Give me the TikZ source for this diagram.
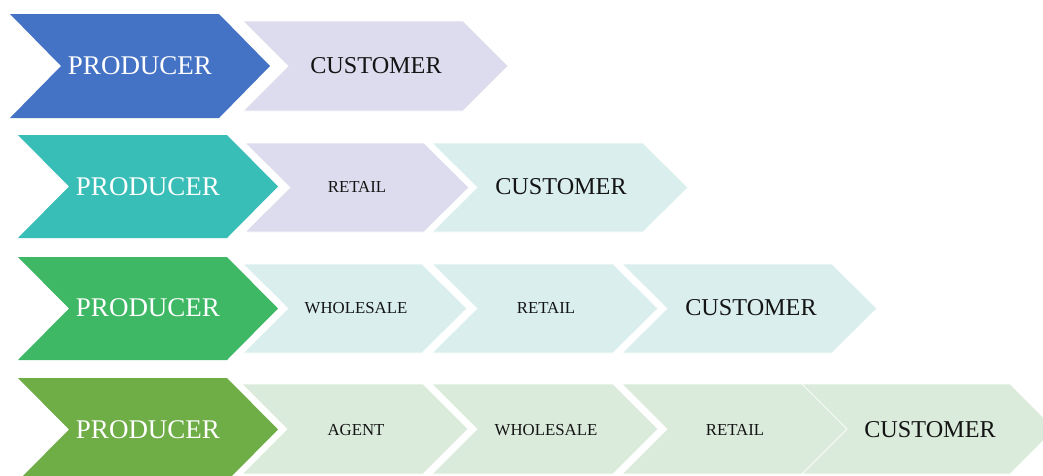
\documentclass[tikz,border=0pt]{standalone}
\usepackage{fontspec}
\setmainfont{Liberation Serif}
\definecolor{prodA}{HTML}{4472C4}
\definecolor{prodB}{HTML}{38BEB6}
\definecolor{prodC}{HTML}{3EB864}
\definecolor{prodD}{HTML}{6FAD47}
\definecolor{lav}{HTML}{DCDCEE}
\definecolor{lteal}{HTML}{DAEEEE}
\definecolor{lgreen}{HTML}{DAEBDB}
% #1 style, #2 x-left, #3 x-tip, #4 top, #5 bottom, #6 depth
\newcommand\chevshape[6]{%
  \path[#1] (#2,#4) -- ({#3-#6},#4) -- (#3,{(#4+#5)/2}) -- ({#3-#6},#5)
    -- (#2,#5) -- ({#2+#6},{(#4+#5)/2}) -- cycle;}
\tikzset{
  prodshape/.style={fill=#1},
  stageshape/.style={fill=#1, draw=white, line width=0.7pt},
  prodlabel/.style={text=white, font=\fontsize{27}{30}\selectfont, inner sep=0pt},
  custlabel/.style={text=black!92, font=\fontsize{24.2}{28}\selectfont, inner sep=0pt},
  midlabel/.style={text=black!92, font=\fontsize{16.8}{20}\selectfont, inner sep=0pt},
}
\begin{document}
\begin{tikzpicture}[x=1pt,y=-1pt]
\useasboundingbox (0,0) rectangle (1043,475);
\fill[white] (0,0) rectangle (1043,475);
% Row 1
\chevshape{prodshape=prodA}{10}{270}{14}{118}{51}
\chevshape{stageshape=lav}{243}{508}{21}{111}{45}
\node[prodlabel] (p1) at (140,66) {PRODUCER};
\node[custlabel] (c1) at (376,66) {CUSTOMER};
% Row 2
\chevshape{prodshape=prodB}{18}{278}{135}{238}{51}
\chevshape{stageshape=lav}{245}{469}{143}{232}{45}
\chevshape{stageshape=lteal}{432}{688}{143}{232}{45}
\node[prodlabel] (p2) at (148,187) {PRODUCER};
\node[midlabel] (r2) at (357,187) {RETAIL};
\node[custlabel] (c2) at (561,187) {CUSTOMER};
% Row 3
\chevshape{prodshape=prodC}{18}{278}{257}{360}{51}
\chevshape{stageshape=lteal}{243}{467}{264}{353}{45}
\chevshape{stageshape=lteal}{432}{658}{264}{353}{45}
\chevshape{stageshape=lteal}{622}{877}{264}{353}{45}
\node[prodlabel] (p3) at (148,308) {PRODUCER};
\node[midlabel] (w3) at (356,308) {WHOLESALE};
\node[midlabel] (r3) at (546,308) {RETAIL};
\node[custlabel] (c3) at (751,308) {CUSTOMER};
% Row 4
\chevshape{prodshape=prodD}{18}{278}{378}{481}{51}
\chevshape{stageshape=lgreen}{242}{468}{384}{474}{45}
\chevshape{stageshape=lgreen}{432}{658}{384}{474}{45}
\chevshape{stageshape=lgreen}{622}{847}{384}{474}{45}
\chevshape{stageshape=lgreen}{802}{1055}{384}{474}{45}
\node[prodlabel] (p4) at (148,430) {PRODUCER};
\node[midlabel] (a4) at (356,430) {AGENT};
\node[midlabel] (w4) at (546,430) {WHOLESALE};
\node[midlabel] (r4) at (735,430) {RETAIL};
\node[custlabel] (c4) at (930,430) {CUSTOMER};
\end{tikzpicture}
\end{document}
